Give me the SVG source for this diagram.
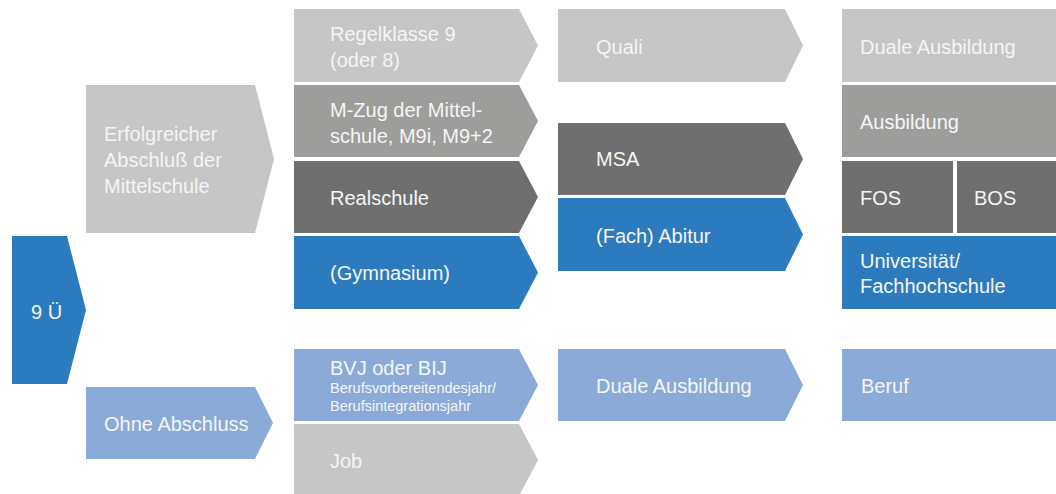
<svg xmlns="http://www.w3.org/2000/svg" width="1056" height="494" viewBox="0 0 1056 494">
<style>
.lg{fill:#c6c6c6}.mg{fill:#9d9d9c}.dg{fill:#6f6f6f}.bl{fill:#2d7bbf}.lb{fill:#8aaad8}
text{font-family:"Liberation Sans",Arial,sans-serif;font-size:20px;fill:#f5f5f5}
.sm{font-size:14.5px}
</style>
<rect width="1056" height="494" fill="#ffffff"/>
<g id="connectors"></g>
<g id="n-9u"><polygon class="bl" points="12,236 67,236 86,310 67,384 12,384"/><text x="31" y="319">9 Ü</text></g>
<g id="n-erfolg"><polygon class="lg" points="86,85 255,85 274,159 255,233 86,233"/><text x="104" y="141">Erfolgreicher</text><text x="104" y="167">Abschluß der</text><text x="104" y="193">Mittelschule</text></g>
<g id="n-ohne"><polygon class="lb" points="86,387 255,387 273,423 255,459 86,459"/><text x="104" y="431">Ohne Abschluss</text></g>
<g id="n-regel"><polygon class="lg" points="294,9 519,9 538,45.5 519,82 294,82"/><text x="330" y="41">Regelklasse 9</text><text x="330" y="67">(oder 8)</text></g>
<g id="n-mzug"><polygon class="mg" points="294,85 519,85 538,121 519,157 294,157"/><text x="330" y="117">M-Zug der Mittel-</text><text x="330" y="143">schule, M9i, M9+2</text></g>
<g id="n-real"><polygon class="dg" points="294,161 519,161 538,197 519,233 294,233"/><text x="330" y="205">Realschule</text></g>
<g id="n-gym"><polygon class="bl" points="294,236 519,236 538,272.5 519,309 294,309"/><text x="330" y="280">(Gymnasium)</text></g>
<g id="n-bvj"><polygon class="lb" points="294,349 519,349 538,385 519,421 294,421"/><text x="330" y="375">BVJ oder BIJ</text><text class="sm" x="330" y="393">Berufsvorbereitendesjahr/</text><text class="sm" x="330" y="411">Berufsintegrationsjahr</text></g>
<g id="n-job"><polygon class="lg" points="294,424 519,424 538,460 519,496 294,496"/><text x="330" y="468">Job</text></g>
<g id="n-quali"><polygon class="lg" points="558,9 785,9 803,45.5 785,82 558,82"/><text x="596" y="54">Quali</text></g>
<g id="n-msa"><polygon class="dg" points="558,123 785,123 803,159 785,195 558,195"/><text x="596" y="166">MSA</text></g>
<g id="n-abitur"><polygon class="bl" points="558,198 785,198 803,234.5 785,271 558,271"/><text x="596" y="243">(Fach) Abitur</text></g>
<g id="n-duale2"><polygon class="lb" points="558,349 785,349 803,385 785,421 558,421"/><text x="596" y="393">Duale Ausbildung</text></g>
<g id="n-duale"><rect class="lg" x="842" y="9" width="214" height="73"/><text x="860" y="54">Duale Ausbildung</text></g>
<g id="n-ausb"><rect class="mg" x="842" y="85" width="214" height="72"/><text x="860" y="129">Ausbildung</text></g>
<g id="n-fos"><rect class="dg" x="842" y="161" width="111" height="72"/><text x="860" y="205">FOS</text></g>
<g id="n-bos"><rect class="dg" x="957" y="161" width="99" height="72"/><text x="974" y="205">BOS</text></g>
<g id="n-uni"><rect class="bl" x="842" y="236" width="214" height="73"/><text x="860" y="268">Universität/</text><text x="860" y="293">Fachhochschule</text></g>
<g id="n-beruf"><rect class="lb" x="842" y="349" width="214" height="72"/><text x="861" y="393">Beruf</text></g>
</svg>
